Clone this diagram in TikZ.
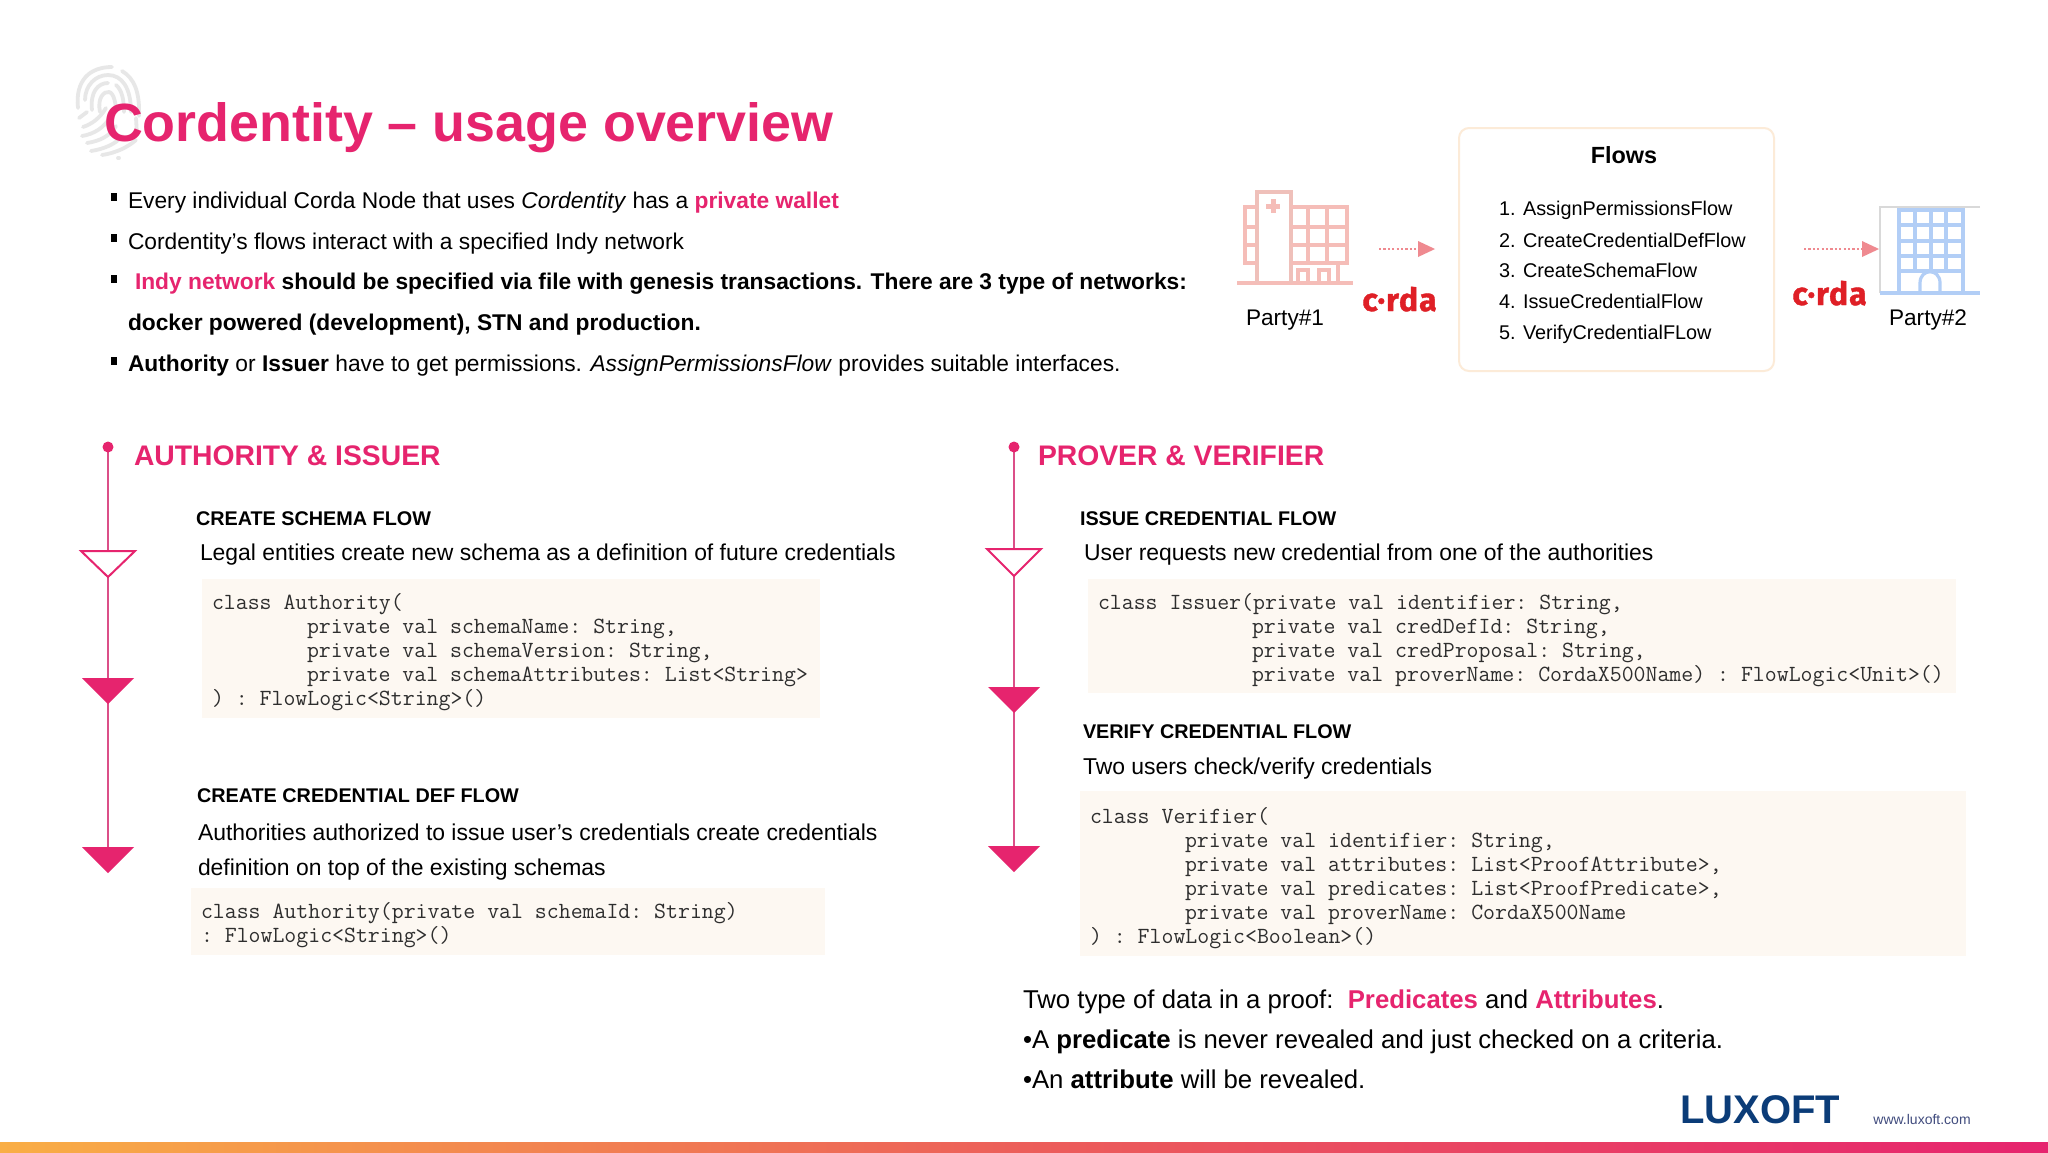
\documentclass[tikz,border=0pt]{standalone}
\usepackage{fontspec}
\setmainfont{Liberation Sans}
\newfontfamily\logofont[FakeBold=1.2,LetterSpace=3]{Fira Sans}
\definecolor{pinkc}{HTML}{E6246E}
\definecolor{linec}{HTML}{DB4F88}
\definecolor{codebg}{HTML}{FDF8F2}
\definecolor{codetx}{HTML}{2E2E2E}
\definecolor{redic}{HTML}{F5BDB8}
\definecolor{redtower}{HTML}{EFC0BA}
\definecolor{blueic}{HTML}{B2CEF6}
\definecolor{arrowc}{HTML}{EF8A90}
\definecolor{fpc}{HTML}{E7E7E7}
\definecolor{navyc}{HTML}{0B3C78}
\definecolor{wwwc}{HTML}{414C7E}
\definecolor{cordared}{HTML}{DF1F26}
\definecolor{boxline}{HTML}{FCEBD8}
\definecolor{barl}{HTML}{F9AE45}
\definecolor{barm}{HTML}{EC5E5A}
\newcommand{\pk}[1]{\textcolor{pinkc}{\textbf{#1}}}
\tikzset{
  txt/.style={anchor=base west,inner sep=0pt,outer sep=0pt,text=black},
  titletx/.style={txt,text=pinkc,font=\fontsize{26.9}{30}\selectfont\bfseries},
  bodytx/.style={txt,font=\fontsize{11.38}{14}\selectfont},
  desctx/.style={txt,font=\fontsize{11.46}{14}\selectfont},
  headtx/.style={txt,text=pinkc,font=\fontsize{14.15}{18}\selectfont\bfseries},
  flowtx/.style={txt,font=\fontsize{9.9}{12}\selectfont\bfseries},
  listtx/.style={txt,font=\fontsize{9.92}{13}\selectfont},
  partytx/.style={anchor=base,inner sep=0pt,font=\fontsize{11.3}{13}\selectfont},
  prooftx/.style={txt,font=\fontsize{12.87}{15}\selectfont},
  codetext/.style={txt,text=codetx,font=\fontsize{11.58}{12}\selectfont\ttfamily\frenchspacing},
  codebox/.style={fill=codebg,draw=none},
  bulletbox/.style={fill=black,draw=none},
  logotx/.style={anchor=base west,inner sep=0pt,text=cordared,font=\fontsize{16}{20}\selectfont\logofont\bfseries},
  opentri/.style={draw=pinkc,fill=white,line width=1pt,line join=miter},
  filltri/.style={fill=pinkc,draw=none},
  tline/.style={draw=linec,line width=1pt},
  dotarrow/.style={draw=arrowc,line width=1.1pt,dash pattern=on 1.1pt off 1.1pt},
  arrowhd/.style={fill=arrowc,draw=none},
  redline/.style={draw=redic,line width=1.8pt},
  blueline/.style={draw=blueic,line width=1.6pt},
  fpline/.style={draw=fpc,line width=1.9pt,line cap=round}
}
\begin{document}
\begin{tikzpicture}[x=0.5pt,y=-0.5pt]
\useasboundingbox (0,0) rectangle (2048,1152);
\fill[white] (0,0) rectangle (2048,1152);
% fingerprint
\draw[fpline] (78,108) .. controls (75,80) and (90,67) .. (112,67);
\draw[fpline] (122,71) .. controls (134,78) and (140,92) .. (139,116);
\draw[fpline] (85,100) .. controls (85,86) and (95,75) .. (108,75) .. controls (122,75) and (131,88) .. (131,112);
\draw[fpline] (92,110) .. controls (90,92) and (98,83) .. (108,83);
\draw[fpline] (116,85) .. controls (122,90) and (124,100) .. (124,112);
\draw[fpline] (100,112) .. controls (97,98) and (104,91) .. (109,92) .. controls (114,93) and (116,104) .. (116,112);
\draw[fpline] (79,118) -- (87,112);
\draw[fpline] (83,127) .. controls (92,124) and (100,118) .. (106,108);
\draw[fpline] (82,136) .. controls (94,134) and (104,128) .. (111,116);
\draw[fpline] (87,143) .. controls (100,141) and (110,136) .. (116,126);
\draw[fpline] (91,151) .. controls (104,149) and (116,144) .. (122,136);
\draw[fpline] (102,155) .. controls (116,153) and (128,147) .. (136,140);
\draw[fpline] (118,158) -- (119,158);
\draw[fpline] (136,118) -- (137,135);
% title
\node[titletx] (title) at (104,141) {Cordentity – usage overview};
% bullets
\fill[bulletbox] (111,193) rectangle (117,201);
\fill[bulletbox] (111,234) rectangle (117,242);
\fill[bulletbox] (111,275) rectangle (117,283);
\fill[bulletbox] (111,357) rectangle (117,365);
\node[bodytx] (b1) at (128,208) {Every individual Corda Node that uses \textit{Cordentity} has a \pk{private wallet}};
\node[bodytx] (b2) at (128,249) {Cordentity’s flows interact with a specified Indy network};
\node[bodytx] (b3) at (135,289) {\pk{Indy network} \textbf{should be specified via file with genesis transactions. There are 3 type of networks:}};
\node[bodytx] (b4) at (128,330) {\textbf{docker powered (development), STN and production.}};
\node[bodytx] (b5) at (128,371) {\textbf{Authority} or \textbf{Issuer} have to get permissions. \textit{AssignPermissionsFlow} provides suitable interfaces.};
% hospital icon
\draw[redline] (1237,283) -- (1353,283);
\draw[redline,draw=redtower] (1257,283) -- (1257,192) -- (1291,192) -- (1291,283);
\draw[redline] (1257,207) -- (1245,207) -- (1245,263) -- (1257,263);
\draw[redline] (1245,227) -- (1257,227) (1245,245) -- (1257,245);
\draw[redline] (1291,207) -- (1347,207) -- (1347,263) -- (1291,263);
\draw[redline] (1291,227) -- (1347,227) (1291,245) -- (1347,245);
\draw[redline] (1308,207) -- (1308,263) (1327,207) -- (1327,263);
\draw[redline] (1338,263) -- (1338,283);
\draw[redline] (1298,283) -- (1298,270) -- (1308,270) -- (1308,283);
\draw[redline] (1319,283) -- (1319,270) -- (1329,270) -- (1329,283);
\draw[draw=redic,line width=2.5pt] (1266,206) -- (1280,206) (1273,199) -- (1273,213);
% dotted arrows
\coordinate (a1s) at (1379,249);
\coordinate (a1e) at (1420,249);
\draw[dotarrow] (a1s) -- (a1e);
\fill[arrowhd] (1418,241) -- (1435,249) -- (1418,257) -- cycle;
\coordinate (a2s) at (1804,249);
\coordinate (a2e) at (1864,249);
\draw[dotarrow] (a2s) -- (a2e);
\fill[arrowhd] (1862,241) -- (1879,249) -- (1862,257) -- cycle;
% corda logos
\node[logotx] (c1) at (1362,311) {c·rda};
\node[logotx] (c2) at (1792,305) {c·rda};
% parties
\node[partytx] (p1) at (1285,325) {Party\#1};
\node[partytx] (p2) at (1928,325) {Party\#2};
% flows box
\draw[draw=boxline,fill=white,line width=1pt,rounded corners=5pt] (1459,128) rectangle (1774,371);
\node[anchor=base,inner sep=0pt,font=\fontsize{11.7}{14}\selectfont\bfseries] (fl) at (1624,163) {Flows};
\node[listtx] (n1) at (1499,215) {1.};
\node[listtx] (l1) at (1523,215) {AssignPermissionsFlow};
\node[listtx] (n2) at (1499,247) {2.};
\node[listtx] (l2) at (1523,247) {CreateCredentialDefFlow};
\node[listtx] (n3) at (1499,277) {3.};
\node[listtx] (l3) at (1523,277) {CreateSchemaFlow};
\node[listtx] (n4) at (1499,308) {4.};
\node[listtx] (l4) at (1523,308) {IssueCredentialFlow};
\node[listtx] (n5) at (1499,339) {5.};
\node[listtx] (l5) at (1523,339) {VerifyCredentialFLow};
% blue building
\draw[draw=black!15,line width=1pt] (1980,207) -- (1880,207) -- (1880,293);
\draw[blueline] (1880,293) -- (1980,293);
\draw[blueline] (1899,210) -- (1963,210) (1899,225) -- (1963,225) (1899,241) -- (1963,241) (1899,256) -- (1963,256) (1899,271) -- (1963,271);
\draw[blueline] (1899,208) -- (1899,292) (1915,208) -- (1915,271) (1931,208) -- (1931,271) (1946,208) -- (1946,271) (1963,208) -- (1963,292);
\draw[blueline] (1920,292) -- (1920,283) .. controls (1920,268) and (1940,268) .. (1940,283) -- (1940,292);
% left timeline
\coordinate (ld) at (108,447);
\coordinate (le) at (108,847);
\draw[tline] (ld) -- (le);
\fill[pinkc] (ld) circle[radius=5.5];
\draw[opentri] (81,551) -- (135,551) -- (108,577) -- cycle;
\fill[filltri] (82,678) -- (134,678) -- (108,704) -- cycle;
\fill[filltri] (82,847) -- (134,847) -- (108,873) -- cycle;
% right timeline
\coordinate (rd) at (1014,447);
\coordinate (re) at (1014,846);
\draw[tline] (rd) -- (re);
\fill[pinkc] (rd) circle[radius=5.5];
\draw[opentri] (987,549) -- (1041,549) -- (1014,576) -- cycle;
\fill[filltri] (988,687) -- (1040,687) -- (1014,713) -- cycle;
\fill[filltri] (988,846) -- (1040,846) -- (1014,872) -- cycle;
% headings
\node[headtx] (h1) at (134,465) {AUTHORITY \& ISSUER};
\node[headtx] (h2) at (1038,465) {PROVER \& VERIFIER};
% left column
\node[flowtx] (f1) at (196,525) {CREATE SCHEMA FLOW};
\node[desctx] (d1) at (200,560) {Legal entities create new schema as a definition of future credentials};
\fill[codebox] (202,579) rectangle (820,718);
\node[codetext] (ca1) at (212,609) {class Authority(};
\node[codetext] (ca2) at (307,633) {private val schemaName: String,};
\node[codetext] (ca3) at (307,657) {private val schemaVersion: String,};
\node[codetext] (ca4) at (307,681) {private val schemaAttributes: List<String>};
\node[codetext] (ca5) at (212,705) {) : FlowLogic<String>()};
\node[flowtx] (f2) at (197,802) {CREATE CREDENTIAL DEF FLOW};
\node[desctx] (d2) at (198,840) {Authorities authorized to issue user’s credentials create credentials};
\node[desctx] (d3) at (198,875) {definition on top of the existing schemas};
\fill[codebox] (191,888) rectangle (825,955);
\node[codetext] (cb1) at (201,918) {class Authority(private val schemaId: String)};
\node[codetext] (cb2) at (201,942) {: FlowLogic<String>()};
% right column
\node[flowtx] (f3) at (1080,525) {ISSUE CREDENTIAL FLOW};
\node[desctx] (d4) at (1084,560) {User requests new credential from one of the authorities};
\fill[codebox] (1088,579) rectangle (1956,693);
\node[codetext] (cc1) at (1098,609) {class Issuer(private val identifier: String,};
\node[codetext] (cc2) at (1252,633) {private val credDefId: String,};
\node[codetext] (cc3) at (1252,657) {private val credProposal: String,};
\node[codetext] (cc4) at (1252,681) {private val proverName: CordaX500Name) : FlowLogic<Unit>()};
\node[flowtx] (f4) at (1083,738) {VERIFY CREDENTIAL FLOW};
\node[desctx] (d5) at (1083,774) {Two users check/verify credentials};
\fill[codebox] (1080,791) rectangle (1966,956);
\node[codetext] (cd1) at (1090,823) {class Verifier(};
\node[codetext] (cd2) at (1185,847) {private val identifier: String,};
\node[codetext] (cd3) at (1185,871) {private val attributes: List<ProofAttribute>,};
\node[codetext] (cd4) at (1185,895) {private val predicates: List<ProofPredicate>,};
\node[codetext] (cd5) at (1185,919) {private val proverName: CordaX500Name};
\node[codetext] (cd6) at (1090,943) {) : FlowLogic<Boolean>()};
% proof text
\node[prooftx] (q1) at (1023,1008) {Two type of data in a proof:\ \ \pk{Predicates} and \pk{Attributes}.};
\node[prooftx] (q2) at (1023,1048) {•A \textbf{predicate} is never revealed and just checked on a criteria.};
\node[prooftx] (q3) at (1023,1088) {•An \textbf{attribute} will be revealed.};
% footer
\node[anchor=base west,inner sep=0pt,text=navyc,font=\fontsize{20}{22}\selectfont\bfseries] (lux) at (1680,1123) {LUXOFT};
\node[anchor=base west,inner sep=0pt,text=wwwc,font=\fontsize{7}{9}\selectfont] (www) at (1873,1124) {www.luxoft.com};
\shade[left color=barl,right color=pinkc,middle color=barm] (0,1142) rectangle (2048,1152);
\end{tikzpicture}
\end{document}
